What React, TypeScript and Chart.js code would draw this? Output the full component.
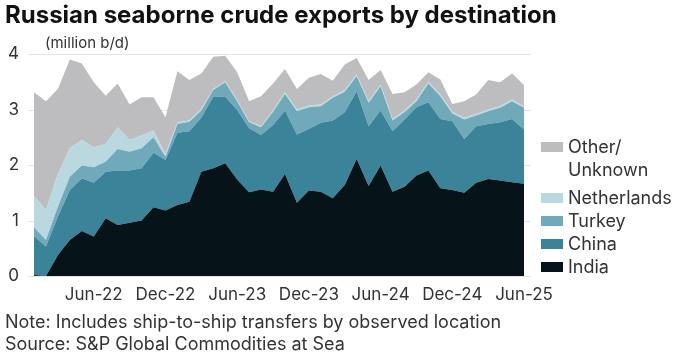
import React, { useEffect, useRef } from "react";
import { Chart, registerables } from "chart.js";

Chart.register(...registerables);

const months = [
  "Jan-22", "Feb-22", "Mar-22", "Apr-22", "May-22", "Jun-22", "Jul-22", "Aug-22", "Sep-22", "Oct-22", "Nov-22", "Dec-22",
  "Jan-23", "Feb-23", "Mar-23", "Apr-23", "May-23", "Jun-23", "Jul-23", "Aug-23", "Sep-23", "Oct-23", "Nov-23", "Dec-23",
  "Jan-24", "Feb-24", "Mar-24", "Apr-24", "May-24", "Jun-24", "Jul-24", "Aug-24", "Sep-24", "Oct-24", "Nov-24", "Dec-24",
  "Jan-25", "Feb-25", "Mar-25", "Apr-25", "May-25", "Jun-25",
];

const india = [
  0.02, 0.0, 0.38, 0.65, 0.81, 0.71, 1.04, 0.92, 0.96, 1.0, 1.24, 1.18,
  1.28, 1.34, 1.88, 1.94, 2.03, 1.74, 1.51, 1.56, 1.52, 1.84, 1.32, 1.54,
  1.52, 1.4, 1.64, 2.11, 1.62, 1.99, 1.52, 1.61, 1.81, 1.9, 1.58, 1.55,
  1.5, 1.68, 1.75, 1.72, 1.69, 1.66,
];
const china = [
  0.7, 0.53, 0.69, 0.9, 0.95, 0.97, 0.84, 0.98, 0.94, 0.94, 0.98, 0.91,
  1.3, 1.27, 0.97, 1.29, 1.2, 1.25, 1.15, 0.98, 1.2, 1.14, 1.23, 1.11,
  1.24, 1.4, 1.31, 1.22, 1.08, 0.99, 1.09, 1.21, 1.23, 1.23, 1.25, 1.24,
  0.97, 1.02, 0.99, 1.05, 1.14, 0.98,
];
const turkey = [
  0.16, 0.12, 0.18, 0.24, 0.23, 0.28, 0.18, 0.39, 0.34, 0.36, 0.28, 0.06,
  0.16, 0.17, 0.13, 0.12, 0.26, 0.16, 0.11, 0.14, 0.24, 0.3, 0.42, 0.39,
  0.3, 0.41, 0.37, 0.27, 0.42, 0.44, 0.19, 0.13, 0.11, 0.34, 0.41, 0.14,
  0.35, 0.19, 0.23, 0.26, 0.32, 0.39,
];
const netherlands = [
  0.56, 0.54, 0.59, 0.51, 0.46, 0.36, 0.32, 0.39, 0.21, 0.23, 0.12, 0.05,
  0.03, 0.02, 0.03, 0.02, 0.02, 0.02, 0.02, 0.02, 0.02, 0.03, 0.03, 0.03,
  0.03, 0.03, 0.03, 0.03, 0.03, 0.03, 0.03, 0.03, 0.03, 0.03, 0.03, 0.03,
  0.03, 0.03, 0.03, 0.03, 0.03, 0.03,
];
const other = [
  1.87, 1.96, 1.53, 1.6, 1.38, 1.17, 0.87, 0.79, 0.64, 0.69, 0.6, 0.66,
  0.92, 0.73, 0.64, 0.58, 0.46, 0.5, 0.36, 0.54, 0.49, 0.42, 0.37, 0.5,
  0.55, 0.28, 0.46, 0.3, 0.38, 0.26, 0.45, 0.33, 0.27, 0.17, 0.27, 0.14,
  0.3, 0.35, 0.53, 0.43, 0.47, 0.38,
];

const yTicks = [0, 1, 2, 3, 4];
const shownTicks = ["Jun-22", "Dec-22", "Jun-23", "Dec-23", "Jun-24", "Dec-24", "Jun-25"];

const seriesNames = ["India", "China", "Turkey", "Netherlands", "Other/ Unknown"];
const seriesColors = ["#06141a", "#3a8399", "#70a9ba", "#b9d8e0", "#bdbdbf"];
const seriesData = [india, china, turkey, netherlands, other];

const FONT = "Inter, Roboto, 'Liberation Sans', sans-serif";

const gridPlugin = {
  id: "extendedGrid",
  beforeDatasetsDraw(chart: any) {
    const { ctx, chartArea, scales } = chart;
    ctx.save();
    ctx.strokeStyle = "#e4e4e4";
    ctx.lineWidth = 1;
    yTicks.forEach((t) => {
      const y = Math.round(scales.y.getPixelForValue(t)) + 0.5;
      ctx.beginPath();
      ctx.moveTo(chartArea.left - 6, y);
      ctx.lineTo(chartArea.right + 7, y);
      ctx.stroke();
    });
    ctx.restore();
  },
};

export default function App() {
  const canvasRef = useRef<HTMLCanvasElement | null>(null);

  useEffect(() => {
    document.body.style.margin = "0";
    const ctx = canvasRef.current;
    if (!ctx) return;
    const chart = new Chart(ctx, {
      type: "line",
      data: {
        labels: months,
        datasets: seriesData.map((d, i) => ({
          label: seriesNames[i],
          data: d,
          backgroundColor: seriesColors[i],
          borderColor: "rgba(0,0,0,0)",
          borderWidth: 0,
          pointRadius: 0,
          pointHoverRadius: 0,
          tension: 0,
          fill: i === 0 ? "origin" : "-1",
        })),
      },
      options: {
        animation: false,
        responsive: false,
        maintainAspectRatio: false,
        layout: { padding: { top: 54, right: 157, left: 0, bottom: 0 } },
        plugins: {
          legend: { display: false },
          tooltip: { enabled: false },
          title: { display: false },
        },
        scales: {
          x: {
            type: "category",
            offset: false,
            grid: { display: false, drawTicks: false },
            border: { display: false },
            ticks: {
              autoSkip: false,
              maxRotation: 0,
              minRotation: 0,
              padding: 9,
              color: "#333333",
              font: { family: FONT, size: 17 },
              callback: function (_v: any, idx: number) {
                const l = months[idx];
                return shownTicks.includes(l) ? l : "";
              },
            },
            afterFit: (scale: any) => {
              scale.height = 80;
            },
          },
          y: {
            stacked: true,
            min: 0,
            max: 4,
            grid: { display: false, drawTicks: false },
            border: { display: false },
            ticks: {
              stepSize: 1,
              padding: 15,
              color: "#333333",
              font: { family: FONT, size: 17 },
              callback: (v: any) => (yTicks.includes(Number(v)) ? String(v) : ""),
            },
            afterFit: (scale: any) => {
              scale.width = 34;
            },
          },
        },
      },
      plugins: [gridPlugin],
    });
    return () => chart.destroy();
  }, []);

  const legendItems = [4, 3, 2, 1, 0];

  return (
    <div style={{ position: "relative", width: 681, height: 356, overflow: "hidden", background: "#fff", fontFamily: FONT }}>
      <canvas ref={canvasRef} width={681} height={356} style={{ position: "absolute", left: 0, top: 0, width: 681, height: 356 }} />
      <div style={{ position: "absolute", left: 5, top: 0, fontSize: 24, fontWeight: 700, color: "#111", whiteSpace: "nowrap", letterSpacing: 0 }}>
        Russian seaborne crude exports by destination
      </div>
      <div style={{ position: "absolute", left: 45, top: 33, fontSize: 15, color: "#333", whiteSpace: "nowrap" }}>
        (million b/d)
      </div>
      <div style={{ position: "absolute", left: 541, top: 135, fontSize: 18, color: "#333", lineHeight: "23px" }}>
        {legendItems.map((i) => (
          <div key={i} style={{ display: "flex", alignItems: "flex-start", marginBottom: i === 4 ? 5 : 0 }}>
            <span style={{ display: "inline-block", width: 22, height: 10, background: seriesColors[i], marginTop: 7, marginRight: 5, flex: "none" }} />
            <span style={{ whiteSpace: "nowrap" }}>
              {i === 4 ? (
                <>
                  Other/
                  <br />
                  Unknown
                </>
              ) : (
                seriesNames[i]
              )}
            </span>
          </div>
        ))}
      </div>
      <div style={{ position: "absolute", left: 5, top: 311, fontSize: 18, color: "#333", whiteSpace: "nowrap", lineHeight: "22px" }}>
        Note: Includes ship-to-ship transfers by observed location
        <br />
        Source: S&amp;P Global Commodities at Sea
      </div>
    </div>
  );
}
